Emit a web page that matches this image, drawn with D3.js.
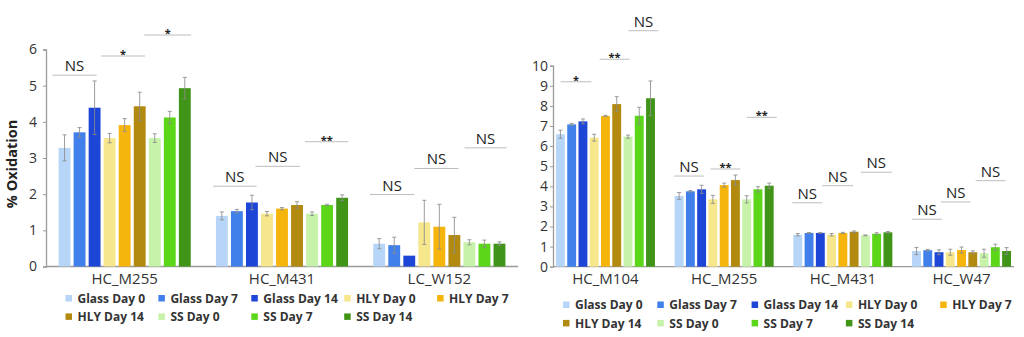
<!DOCTYPE html>
<html>
<head>
<meta charset="utf-8">
<script src="https://cdn.jsdelivr.net/npm/d3@7/dist/d3.min.js"></script>
<style>
  html, body { margin: 0; padding: 0; background: #fff; }
  svg { display: block; font-family: "Open Sans", sans-serif; }
</style>
</head>
<body>
<svg id="chart" width="1024" height="337"></svg>
<script>
// series shared by both panels
const series = ['Glass Day 0', 'Glass Day 7', 'Glass Day 14', 'HLY Day 0', 'HLY Day 7',
  'HLY Day 14', 'SS Day 0', 'SS Day 7', 'SS Day 14'];
const palette = ['#b7d5f6', '#4180ea', '#1d45d6', '#f6e68c', '#f6b50c',
  '#b38a10', '#c6f2a9', '#5bd619', '#409518'];

// left panel
const leftCategories = ['HC_M255', 'HC_M431', 'LC_W152'];
const leftValues = [
  [3.28, 3.71, 4.39, 3.55, 3.91, 4.43, 3.55, 4.12, 4.93],
  [1.40, 1.53, 1.77, 1.46, 1.60, 1.70, 1.46, 1.70, 1.90],
  [0.63, 0.59, 0.30, 1.22, 1.10, 0.87, 0.67, 0.63, 0.63]
];
const leftErrors = [
  [0.36, 0.13, 0.74, 0.13, 0.18, 0.39, 0.12, 0.17, 0.30],
  [0.11, 0.05, 0.20, 0.06, 0.03, 0.09, 0.05, 0.02, 0.08],
  [0.14, 0.22, 0.00, 0.61, 0.62, 0.49, 0.07, 0.10, 0.05]
];
const leftTicks = [0, 1, 2, 3, 4, 5, 6];
// significance brackets: group, span in bar steps, height in % units
const leftBrackets = [
  { g: 0, from: -0.40, to: 2.53, y: 5.29, label: 'NS' },
  { g: 0, from: 2.82, to: 5.75, y: 5.82, label: '*' },
  { g: 0, from: 5.70, to: 8.82, y: 6.40, label: '*' },
  { g: 1, from: -0.19, to: 2.70, y: 2.22, label: 'NS' },
  { g: 1, from: 2.63, to: 5.59, y: 2.77, label: 'NS' },
  { g: 1, from: 5.92, to: 8.81, y: 3.45, label: '**' },
  { g: 2, from: -0.22, to: 2.73, y: 1.99, label: 'NS' },
  { g: 2, from: 2.73, to: 5.67, y: 2.71, label: 'NS' },
  { g: 2, from: 6.07, to: 8.87, y: 3.28, label: 'NS' }
];

// right panel
const rightCategories = ['HC_M104', 'HC_M255', 'HC_M431', 'HC_W47'];
const rightValues = [
  [6.59, 7.08, 7.23, 6.42, 7.50, 8.09, 6.47, 7.51, 8.38],
  [3.52, 3.75, 3.85, 3.35, 4.06, 4.31, 3.35, 3.85, 4.03],
  [1.59, 1.68, 1.68, 1.59, 1.68, 1.74, 1.56, 1.64, 1.71],
  [0.78, 0.82, 0.72, 0.72, 0.83, 0.72, 0.67, 0.97, 0.78]
];
const rightErrors = [
  [0.20, 0.05, 0.12, 0.17, 0.03, 0.37, 0.08, 0.42, 0.86],
  [0.17, 0.04, 0.20, 0.20, 0.10, 0.25, 0.18, 0.13, 0.13],
  [0.06, 0.02, 0.02, 0.06, 0.03, 0.04, 0.02, 0.05, 0.04],
  [0.18, 0.04, 0.12, 0.15, 0.15, 0.07, 0.20, 0.15, 0.17]
];
const rightTicks = [0, 1, 2, 3, 4, 5, 6, 7, 8, 9, 10];
const rightBrackets = [
  { g: 0, from: 0.41, to: 3.15, y: 9.20, label: '*' },
  { g: 0, from: 3.88, to: 6.53, y: 10.32, label: '**' },
  { g: 0, from: 6.44, to: 9.09, y: 11.74, label: 'NS' },
  { g: 1, from: -0.06, to: 2.61, y: 4.51, label: 'NS' },
  { g: 1, from: 3.18, to: 5.83, y: 4.86, label: '**' },
  { g: 1, from: 6.41, to: 9.06, y: 7.43, label: '**' },
  { g: 2, from: -0.09, to: 2.56, y: 3.18, label: 'NS' },
  { g: 2, from: 2.56, to: 5.30, y: 4.03, label: 'NS' },
  { g: 2, from: 6.00, to: 8.74, y: 4.70, label: 'NS' },
  { g: 3, from: 0.00, to: 2.65, y: 2.36, label: 'NS' },
  { g: 3, from: 2.56, to: 5.20, y: 3.22, label: 'NS' },
  { g: 3, from: 5.65, to: 8.30, y: 4.28, label: 'NS' }
];

const panels = [
  { cats: leftCategories, values: leftValues, errors: leftErrors, ticks: leftTicks,
    brackets: leftBrackets, left: 46, right: 518, top: 49.5, bottom: 266.5,
    padIn: 0.16, padOut: 0.08, tickGap: 9, yLabel: '% Oxidation',
    legendX: 65.5, legendY: 298.5, legendStep: 92.9 },
  { cats: rightCategories, values: rightValues, errors: rightErrors, ticks: rightTicks,
    brackets: rightBrackets, left: 553, right: 1014, top: 65.7, bottom: 266.7,
    padIn: 0.166, padOut: 0.025, tickGap: 5, yLabel: null,
    legendX: 563, legendY: 305, legendStep: 94.3 }
];

const svg = d3.select('#chart');

panels.forEach(p => {
  const g = svg.append('g');
  const yMax = p.ticks[p.ticks.length - 1];

  const x = d3.scaleBand()
    .domain(p.cats)
    .range([p.left, p.right])
    .paddingInner(p.padIn)
    .paddingOuter(p.padOut);

  const xs = d3.scaleBand()
    .domain(series)
    .range([0, x.bandwidth()])
    .paddingInner(0.21);

  const y = d3.scaleLinear()
    .domain([0, yMax])
    .range([p.bottom, p.top]);

  const step = xs.step();

  // y axis
  g.append('g')
    .attr('transform', `translate(${p.left},0)`)
    .call(d3.axisLeft(y).tickValues(p.ticks).tickSize(3).tickPadding(p.tickGap - 3).tickFormat(d3.format('d')))
    .call(a => a.select('.domain').attr('stroke', '#9a9a9a').attr('stroke-width', 1.3))
    .call(a => a.selectAll('.tick line').attr('stroke', '#9a9a9a'))
    .call(a => a.selectAll('.tick text')
      .attr('fill', '#333')
      .style('font-size', '14px')
      .style('font-family', '"Open Sans", sans-serif'));

  // baseline
  g.append('line')
    .attr('x1', p.left).attr('x2', p.right)
    .attr('y1', y(0)).attr('y2', y(0))
    .attr('stroke', '#9a9a9a')
    .attr('stroke-width', 1.3);

  // bars
  p.cats.forEach((cat, ci) => {
    const grp = g.append('g').attr('transform', `translate(${x(cat)},0)`);
    const rows = series.map((s, si) => ({ s, si, v: p.values[ci][si], e: p.errors[ci][si] }));

    grp.selectAll('rect')
      .data(rows)
      .join('rect')
        .attr('x', d => xs(d.s))
        .attr('y', d => y(d.v))
        .attr('width', xs.bandwidth())
        .attr('height', d => y(0) - y(d.v))
        .attr('fill', d => palette[d.si]);

    const err = grp.selectAll('g.err')
      .data(rows.filter(d => d.e > 0))
      .join('g')
        .attr('class', 'err')
        .attr('stroke', '#8c8c8c')
        .attr('stroke-opacity', 0.85)
        .attr('stroke-width', 1);
    err.append('line')
      .attr('x1', d => xs(d.s) + xs.bandwidth() / 2)
      .attr('x2', d => xs(d.s) + xs.bandwidth() / 2)
      .attr('y1', d => y(d.v - d.e))
      .attr('y2', d => y(d.v + d.e));
    [-1, 1].forEach(sign => {
      err.append('line')
        .attr('x1', d => xs(d.s) + xs.bandwidth() / 2 - 2)
        .attr('x2', d => xs(d.s) + xs.bandwidth() / 2 + 2)
        .attr('y1', d => y(d.v + sign * d.e))
        .attr('y2', d => y(d.v + sign * d.e));
    });

    // category label
    g.append('text')
      .attr('x', x(cat) + x.bandwidth() / 2)
      .attr('y', y(0) + 17.5)
      .attr('text-anchor', 'middle')
      .attr('fill', '#333')
      .style('font-size', '15px')
      .text(cat);
  });

  // significance brackets
  p.brackets.forEach(b => {
    const x0 = x(p.cats[b.g]) + b.from * step;
    const x1 = x(p.cats[b.g]) + b.to * step;
    const yy = y(b.y);
    g.append('line')
      .attr('x1', x0).attr('x2', x1)
      .attr('y1', yy).attr('y2', yy)
      .attr('stroke', '#bdbdbd')
      .attr('stroke-width', 1);
    const isNS = b.label === 'NS';
    g.append('text')
      .attr('x', (x0 + x1) / 2)
      .attr('y', isNS ? yy - 4 : yy + 2)
      .attr('text-anchor', 'middle')
      .attr('fill', '#222')
      .style('font-size', isNS ? '15px' : '11px')
      .style('font-weight', isNS ? 400 : 700)
      .text(b.label);
  });

  // y label
  if (p.yLabel) {
    g.append('text')
      .attr('transform', `translate(17,${(p.top + p.bottom) / 2 + 6}) rotate(-90)`)
      .attr('text-anchor', 'middle')
      .attr('fill', '#222')
      .style('font-size', '14.5px')
      .style('font-weight', 700)
      .text(p.yLabel);
  }

  // legend
  const leg = g.append('g');
  series.forEach((s, i) => {
    const lx = p.legendX + (i % 5) * p.legendStep;
    const ly = p.legendY + Math.floor(i / 5) * 18.4;
    leg.append('rect')
      .attr('x', lx).attr('y', ly - 3.5)
      .attr('width', 6.5).attr('height', 6.5)
      .attr('fill', palette[i]);
    leg.append('text')
      .attr('x', lx + 12)
      .attr('y', ly)
      .attr('dy', '0.35em')
      .attr('fill', '#333')
      .style('font-size', '12px')
      .style('font-weight', 700)
      .text(s);
  });
});
</script>
</body>
</html>
